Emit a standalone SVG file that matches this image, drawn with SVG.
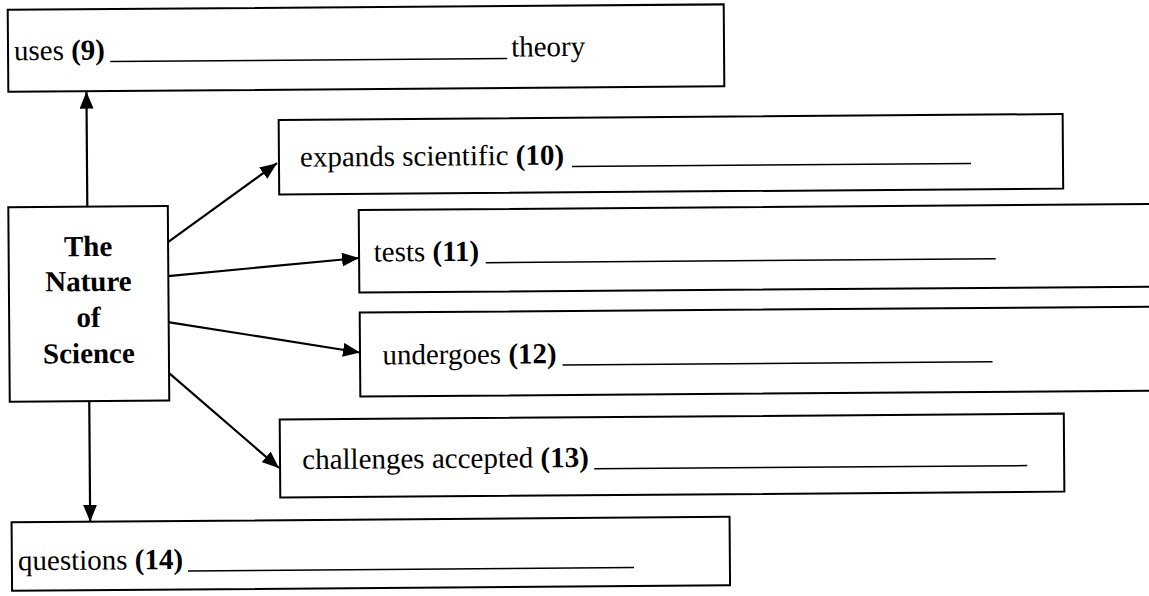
<svg xmlns="http://www.w3.org/2000/svg" width="1149" height="596" viewBox="0 0 1149 596">
  <style>
    .box { fill: #ffffff; stroke: #000000; stroke-width: 2; }
    .lbl { font-family: "Liberation Serif", "Times New Roman", serif; font-size: 29px; fill: #000000; }
    .num { font-weight: bold; }
    .hub { font-family: "Liberation Serif", "Times New Roman", serif; font-size: 29px; font-weight: bold; fill: #000000; text-anchor: middle; }
    .blank { stroke: #000000; stroke-width: 1.5; }
    .link { stroke: #000000; stroke-width: 2.2; fill: none; marker-end: url(#arrow); }
  </style>
  <defs>
    <marker id="arrow" viewBox="0 0 17 14" refX="17" refY="7" markerWidth="17" markerHeight="14" markerUnits="userSpaceOnUse" orient="auto">
      <path d="M0,0 L17,7 L0,14 z" fill="#000000"/>
    </marker>
  </defs>
  <rect width="1149" height="596" fill="#ffffff"/>

  <!-- whole sheet sits very slightly tilted -->
  <g transform="rotate(-0.43 574 298)">

    <g id="connectors">
      <line class="link" x1="88" y1="203" x2="88" y2="88"/>
      <line class="link" x1="168.4" y1="239" x2="278" y2="161"/>
      <line class="link" x1="168.2" y1="273" x2="359.3" y2="256.4"/>
      <line class="link" x1="167.8" y1="319" x2="359.6" y2="350.9"/>
      <line class="link" x1="167.4" y1="369" x2="277.7" y2="465.8"/>
      <line class="link" x1="88.5" y1="397.5" x2="88.5" y2="518"/>
    </g>

    <g id="node-uses">
      <rect class="box" x="9.9" y="5.5" width="716" height="82"/>
      <text class="lbl" x="15.8" y="56">uses <tspan class="num">(9)</tspan></text>
      <line class="blank" x1="112" y1="58" x2="509" y2="58"/>
      <text class="lbl" x="513" y="56">theory</text>
    </g>

    <g id="node-expands">
      <rect class="box" x="280" y="117.7" width="784" height="74.6"/>
      <text class="lbl" x="301" y="164.5">expands scientific <tspan class="num">(10)</tspan></text>
      <line class="blank" x1="573" y1="166.5" x2="972" y2="166.5"/>
    </g>

    <g id="node-tests">
      <rect class="box" x="359.4" y="208.4" width="840" height="82.6"/>
      <text class="lbl" x="374" y="260">tests <tspan class="num">(11)</tspan></text>
      <line class="blank" x1="486" y1="262" x2="996" y2="262"/>
    </g>

    <g id="node-undergoes">
      <rect class="box" x="359.6" y="311" width="840" height="84"/>
      <text class="lbl" x="382" y="363">undergoes <tspan class="num">(12)</tspan></text>
      <line class="blank" x1="562" y1="365" x2="992" y2="365"/>
    </g>

    <g id="node-challenges">
      <rect class="box" x="278.8" y="417.3" width="784.1" height="78"/>
      <text class="lbl" x="301" y="467">challenges accepted <tspan class="num">(13)</tspan></text>
      <line class="blank" x1="593" y1="469" x2="1026" y2="469"/>
    </g>

    <g id="node-questions">
      <rect class="box" x="9.9" y="518" width="718" height="68.5"/>
      <text class="lbl" x="16" y="566">questions <tspan class="num">(14)</tspan></text>
      <line class="blank" x1="186" y1="568" x2="632" y2="568"/>
    </g>

    <g id="node-hub">
      <rect class="box" x="9" y="203" width="159.5" height="194.5"/>
      <text class="hub" x="88.5" y="252.4">The</text>
      <text class="hub" x="88.5" y="287.4">Nature</text>
      <text class="hub" x="88.5" y="323.4">of</text>
      <text class="hub" x="88.5" y="359.4">Science</text>
    </g>
  </g>
</svg>
